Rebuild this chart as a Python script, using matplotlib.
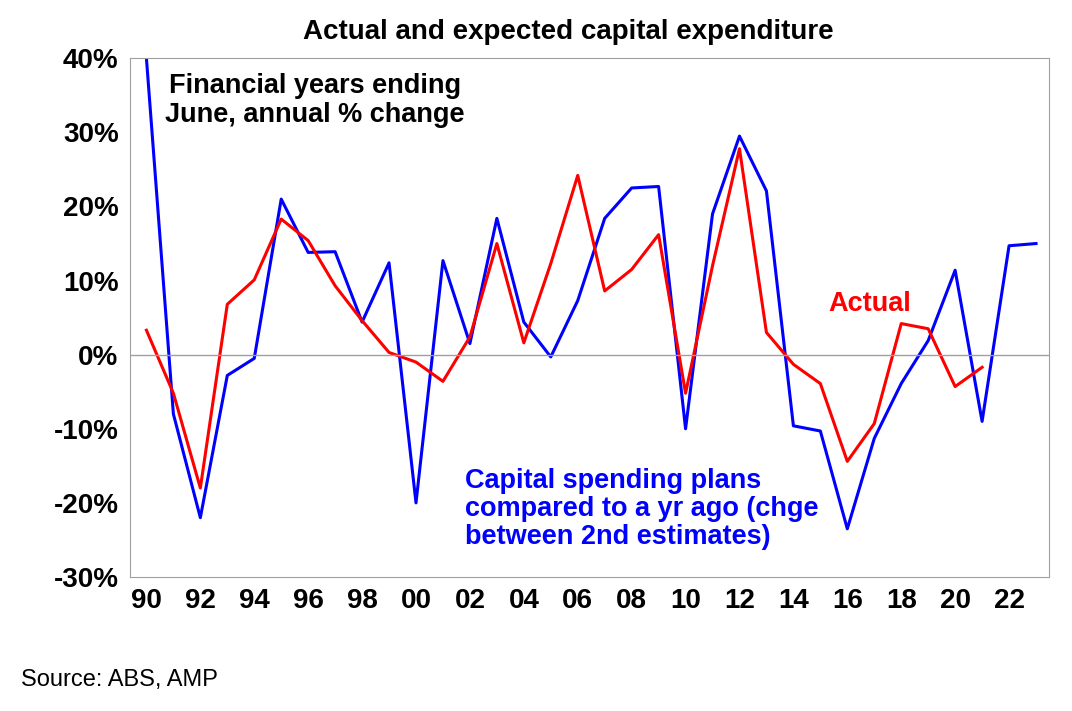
import numpy as np
import matplotlib.pyplot as plt

plt.rcParams['font.family'] = ['Liberation Sans', 'DejaVu Sans']

years = np.arange(1990, 2024)
plans = [40, -8, -22, -2.8, -0.5, 21, 13.8, 13.9, 4.4, 12.4, -20, 12.7, 1.5, 18.4,
         4.4, -0.3, 7.3, 18.4, 22.5, 22.7, -10, 19, 29.5, 22.1, -9.6, -10.3, -23.5,
         -11.3, -3.9, 1.9, 11.4, -9, 14.7, 15]
actual_years = np.arange(1990, 2022)
actual = [3.3, -5.2, -18, 6.8, 10.1, 18.3, 15.4, 9.3, 4.6, 0.3, -1, -3.6, 2.4, 15,
          1.6, 12.3, 24.2, 8.6, 11.5, 16.2, -5.2, 12, 27.8, 3, -1.3, -3.9, -14.4,
          -9.3, 4.2, 3.5, -4.3, -1.7]
tick_years = np.arange(1990, 2023, 2)
tick_labels = ['%02d' % (y % 100) for y in tick_years]

fig = plt.figure(figsize=(10.72, 7.11), dpi=100)
ax = fig.add_axes([0.121, 0.1885, 0.858, 0.7295])
ax.plot(years, plans, color='#0000ff', lw=2.2)
ax.plot(actual_years, actual, color='#ff0000', lw=2.2)
ax.axhline(0, color='#a0a0a0', lw=1)
ax.set_xlim(1989.38, 2023.5)
ax.set_ylim(-30, 40)
ax.set_yticks(range(-30, 41, 10))
ax.set_yticklabels(['%d%%' % v for v in range(-30, 41, 10)], fontsize=20, fontweight='bold')
ax.set_xticks(tick_years)
ax.set_xticklabels(tick_labels, fontsize=20, fontweight='bold')
ax.tick_params(length=0, pad=8)
for s in ax.spines.values():
    s.set_color('#a0a0a0')

fig.text(0.53, 0.955, 'Actual and expected capital expenditure', ha='center',
         va='center', fontsize=20, fontweight='bold')
ax.text(1990.7, 38, 'Financial years ending\nJune, annual % change', ha='left',
        va='top', fontsize=19.5, fontweight='bold', linespacing=1.15, multialignment='center')
ax.text(2015.3, 6.9, 'Actual', color='#ff0000', ha='left', va='center',
        fontsize=19.5, fontweight='bold')
ax.text(2001.8, -15.3, 'Capital spending plans\ncompared to a yr ago (chge\nbetween 2nd estimates)',
        color='#0000ff', ha='left', va='top', fontsize=19.5, fontweight='bold', linespacing=1.1)
fig.text(0.02, 0.035, 'Source: ABS, AMP', fontsize=17)

fig.savefig('out.png')
